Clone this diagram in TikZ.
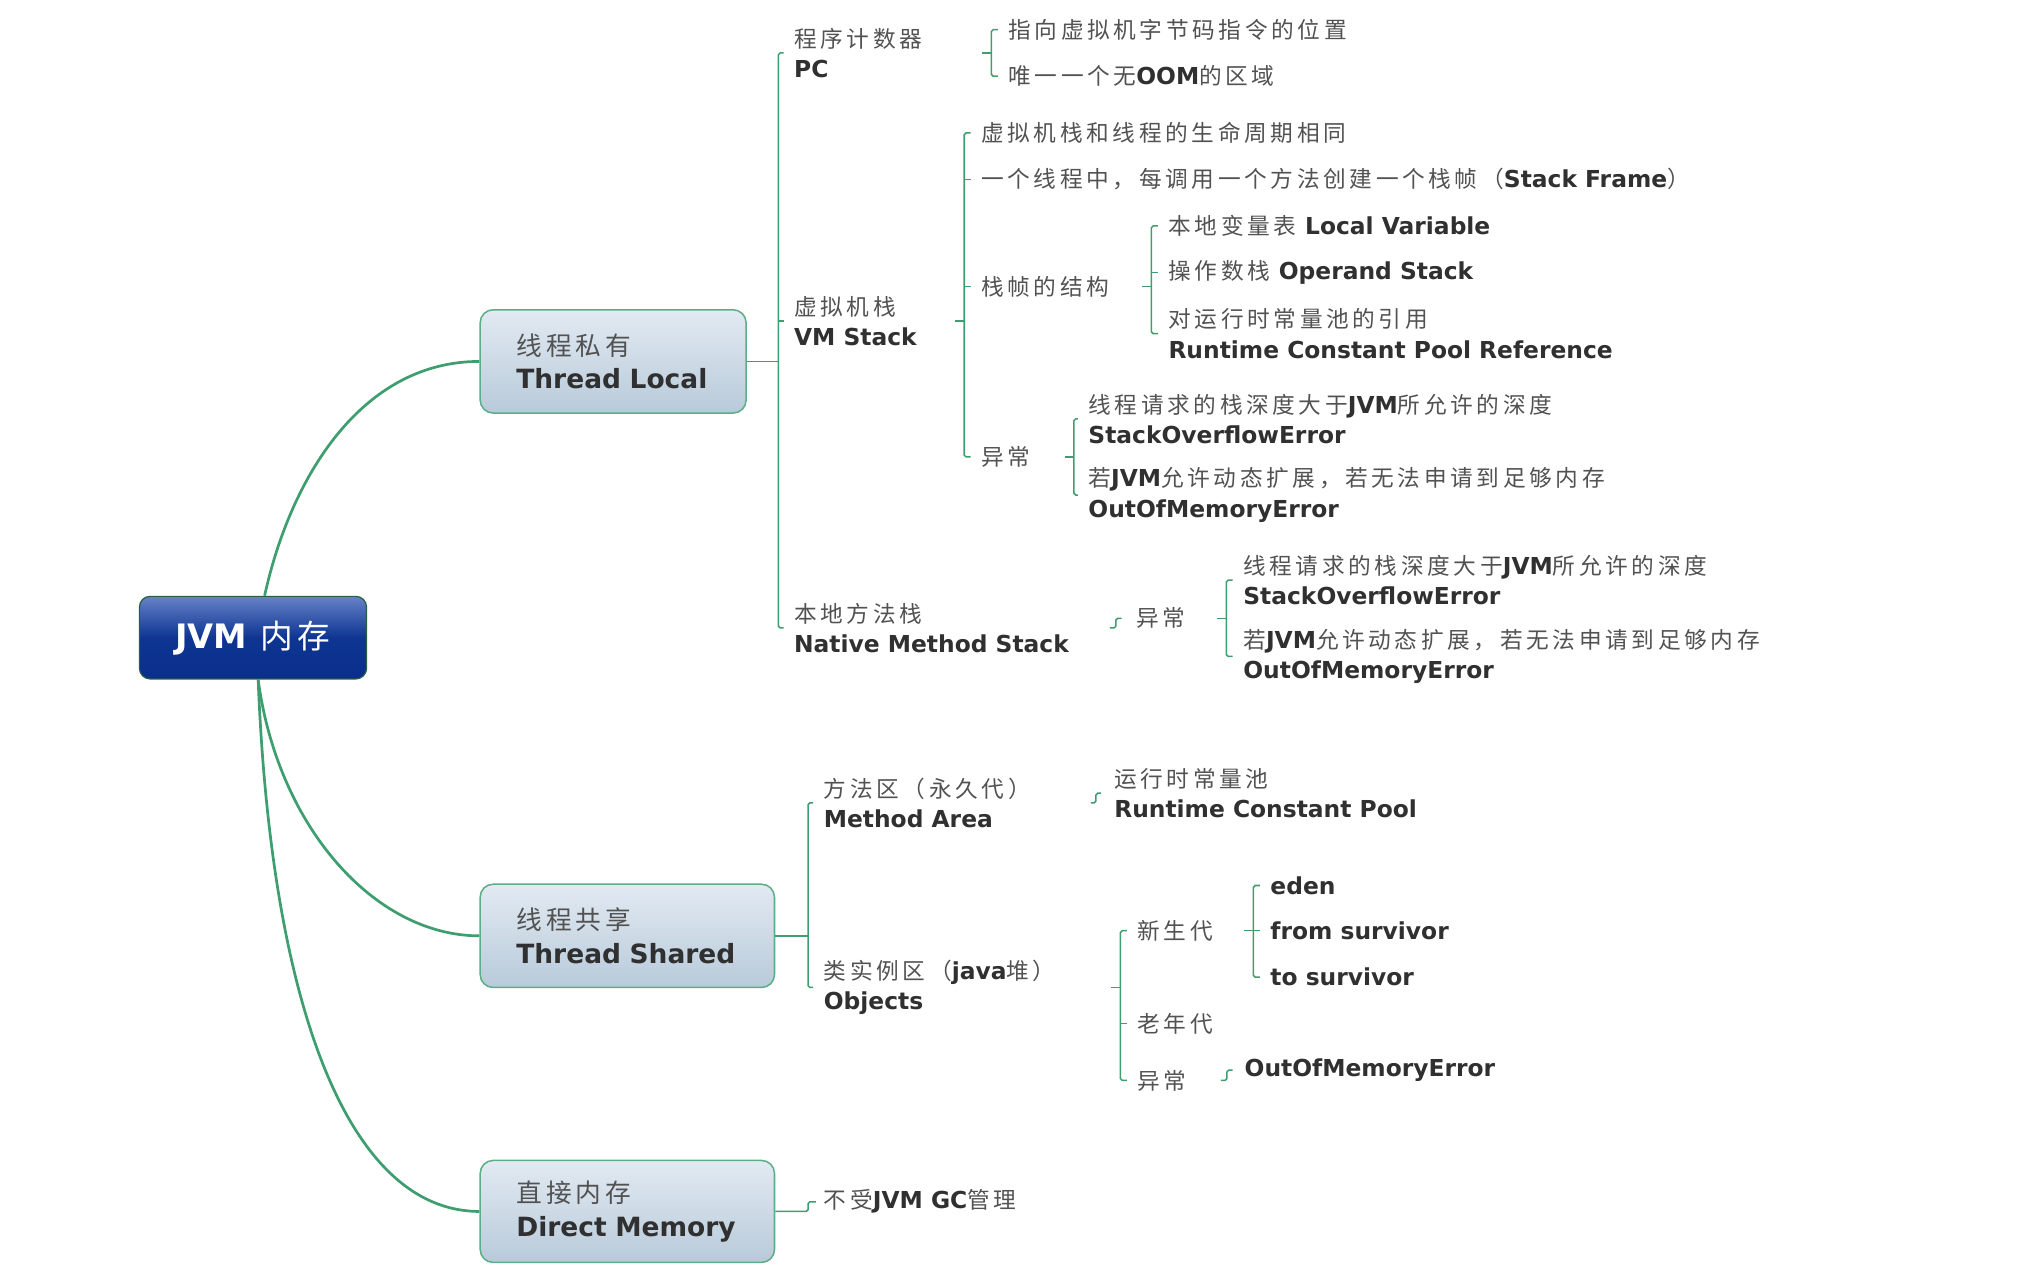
\documentclass[tikz,border=0pt]{standalone}
\usepackage{fontspec}
\setmainfont[LetterSpace=16]{Noto Sans CJK SC}
\newfontfamily\dv[Scale=1.03]{DejaVu Sans}
\definecolor{lgreen}{HTML}{3F9E6F}
\definecolor{txt}{HTML}{525252}
\definecolor{txtb}{HTML}{303030}
\definecolor{boxtop}{HTML}{E2EAF2}
\definecolor{boxbot}{HTML}{B8CADA}
\definecolor{boxline}{HTML}{5CAE86}
\definecolor{roottop}{HTML}{6682C8}
\definecolor{rootmid}{HTML}{0E3592}
\definecolor{rootbot}{HTML}{0A2E8C}
\newcommand\B[1]{{\dv\bfseries\color{txtb}#1}}
\begin{document}
\begin{tikzpicture}[x=0.3mm,y=-0.3mm,
  ln/.style={draw=lgreen,line width=1pt},
  brk/.style={draw=lgreen,line width=1pt,rounded corners=1.2pt},
  cv/.style={draw=lgreen,line width=1.8pt},
  txtn/.style={anchor=west,inner sep=0pt,align=left,text=txt,font=\fontsize{15}{20}\selectfont},
  cbox/.style={rounded corners=3mm,top color=boxtop,bottom color=boxbot,draw=boxline,line width=1pt,
    minimum height=24mm,inner xsep=8.4mm,align=left,text=txt,font=\fontsize{17}{22}\selectfont},
  rootbox/.style={rounded corners=2.5mm,top color=roottop,bottom color=rootbot,middle color=rootmid,
    draw=lgreen!60!black,line width=0.8pt,minimum width=52.8mm,minimum height=19.2mm,text=white,
    font=\fontsize{21.6}{24}\selectfont}
]
\useasboundingbox (0,0) rectangle (1568,990);

% ---------- central nodes ----------
\node[rootbox] (root) at (196,494) {{\dv\bfseries JVM} 内存};
\node[cbox,text width=45mm] (tl) at (475,280) {线程私有\\\B{Thread Local}};
\node[cbox,text width=51.6mm] (ts) at (486,725) {线程共享\\\B{Thread Shared}};
\node[cbox,text width=51.6mm,minimum height=23.7mm] (dm) at (486,938.5) {直接内存\\\B{Direct Memory}};

\draw[cv] ([xshift=2.7mm]root.north) .. controls (225,370) and (280,280) .. (tl.west);
\draw[cv] ([xshift=1.2mm]root.south) .. controls (215,640) and (290,725) .. (ts.west);
\draw[cv] ([xshift=1.2mm]root.south) .. controls (210,780) and (270,938.5) .. (dm.west);

% ---------- Thread Local ----------
\node[txtn] (pc) at (615,41) {程序计数器\\\B{PC}};
\node[txtn] (pc1) at (781,23) {指向虚拟机字节码指令的位置};
\node[txtn] (pc2) at (781,59) {唯一一个无\B{OOM}的区域};
\node[txtn] (vm) at (615,248.5) {虚拟机栈\\\B{VM Stack}};
\node[txtn] (vm1) at (760,103) {虚拟机栈和线程的生命周期相同};
\node[txtn] (vm2) at (760,139) {一个线程中，每调用一个方法创建一个栈帧（\B{Stack Frame}）};
\node[txtn] (vm3) at (760,222) {栈帧的结构};
\node[txtn] (vm31) at (905,175) {本地变量表 \B{Local Variable}};
\node[txtn] (vm32) at (905,211) {操作数栈 \B{Operand Stack}};
\node[txtn] (vm33) at (905,258.5) {对运行时常量池的引用\\\B{Runtime Constant Pool Reference}};
\node[txtn] (vm4) at (760,354) {异常};
\node[txtn] (vm41) at (843,324.5) {线程请求的栈深度大于\B{JVM}所允许的深度\\\B{StackOverflowError}};
\node[txtn] (vm42) at (843,383.5) {若\B{JVM}允许动态扩展，若无法申请到足够内存\\\B{OutOfMemoryError}};
\node[txtn] (nm) at (615,486.5) {本地方法栈\\\B{Native Method Stack}};
\node[txtn] (nm1) at (880,479) {异常};
\node[txtn] (nm11) at (963,449.5) {线程请求的栈深度大于\B{JVM}所允许的深度\\\B{StackOverflowError}};
\node[txtn] (nm12) at (963,508.5) {若\B{JVM}允许动态扩展，若无法申请到足够内存\\\B{OutOfMemoryError}};

\coordinate (bTL) at (603,0);
\coordinate (bPC) at (768,0);
\coordinate (bVM) at (747,0);
\coordinate (bFR) at (892,0);
\coordinate (bEX) at (832,0);
\coordinate (bNE) at (950,0);
\coordinate (sNM) at (864.5,0);
\coordinate (sMA) at (849,0);
\coordinate (sOB) at (950.5,0);
\coordinate (sDM) at (626,0);

% TL bracket
\draw[ln] (tl.east) -- (tl.east -| bTL);
\draw[brk] ([xshift=-2.4mm]pc.west) -- (bTL |- pc.west) -- (bTL |- nm.west) -- ([xshift=-2.4mm]nm.west);
\draw[ln] (bTL |- vm.west) -- ([xshift=-2.4mm]vm.west);
% PC bracket
\draw[ln] ([xshift=-2.1mm]bPC |- pc.west) -- (bPC |- pc.west);
\draw[brk] ([xshift=-2.4mm]pc1.west) -- (bPC |- pc1.west) -- (bPC |- pc2.west) -- ([xshift=-2.4mm]pc2.west);
% VM bracket
\draw[ln,line width=1.6pt] ([xshift=-2.1mm]bVM |- vm.west) -- (bVM |- vm.west);
\draw[brk] ([xshift=-2.4mm]vm1.west) -- (bVM |- vm1.west) -- (bVM |- vm4.west) -- ([xshift=-2.4mm]vm4.west);
\draw[ln] (bVM |- vm2.west) -- ([xshift=-2.4mm]vm2.west);
\draw[ln] (bVM |- vm3.west) -- ([xshift=-2.4mm]vm3.west);
% frame bracket
\draw[ln] ([xshift=-2.1mm]bFR |- vm3.west) -- (bFR |- vm3.west);
\draw[brk] ([xshift=-2.4mm]vm31.west) -- (bFR |- vm31.west) -- (bFR |- vm33.west) -- ([xshift=-2.4mm]vm33.west);
\draw[ln] (bFR |- vm32.west) -- ([xshift=-2.4mm]vm32.west);
% VM exception bracket
\draw[ln] ([xshift=-2.1mm]bEX |- vm4.west) -- (bEX |- vm4.west);
\draw[brk] ([xshift=-2.4mm]vm41.west) -- (bEX |- vm41.west) -- (bEX |- vm42.west) -- ([xshift=-2.4mm]vm42.west);
% native -> exception (single child)
\draw[brk] ([xshift=-1.4mm]sNM |- nm.west) -- (sNM |- nm.west) -- (sNM |- nm1.west) -- ([xshift=-3.3mm]nm1.west);
% native exception bracket
\draw[ln] ([xshift=-2.1mm]bNE |- nm1.west) -- (bNE |- nm1.west);
\draw[brk] ([xshift=-2.4mm]nm11.west) -- (bNE |- nm11.west) -- (bNE |- nm12.west) -- ([xshift=-2.4mm]nm12.west);

% ---------- Thread Shared ----------
\node[txtn] (ma) at (638,622) {方法区（永久代）\\\B{Method Area}};
\node[txtn] (ma1) at (863,614.5) {运行时常量池\\\B{Runtime Constant Pool}};
\node[txtn] (ob) at (638,765) {类实例区（\B{java}堆）\\\B{Objects}};
\node[txtn] (ob1) at (881,721) {新生代};
\node[txtn] (e1) at (984,686) {\B{eden}};
\node[txtn] (e2) at (984,721) {\B{from survivor}};
\node[txtn] (e3) at (984,757) {\B{to survivor}};
\node[txtn] (ob2) at (881,793) {老年代};
\node[txtn] (ob3) at (881,837) {异常};
\node[txtn] (ob31) at (964,829) {\B{OutOfMemoryError}};

\coordinate (bTS) at (626,0);
\coordinate (bOB) at (868,0);
\coordinate (bYG) at (971,0);

\draw[ln] (ts.east) -- (ts.east -| bTS);
\draw[brk] ([xshift=-2.4mm]ma.west) -- (bTS |- ma.west) -- (bTS |- ob.west) -- ([xshift=-2.4mm]ob.west);
\draw[brk] ([xshift=-1.2mm]sMA |- ma.west) -- (sMA |- ma.west) -- (sMA |- ma1.west) -- ([xshift=-3mm]ma1.west);
\draw[ln] ([xshift=-2.1mm]bOB |- ob.west) -- (bOB |- ob.west);
\draw[brk] ([xshift=-2.4mm]ob1.west) -- (bOB |- ob1.west) -- (bOB |- ob3.west) -- ([xshift=-2.4mm]ob3.west);
\draw[ln] (bOB |- ob2.west) -- ([xshift=-2.4mm]ob2.west);
\draw[ln] ([xshift=-2.1mm]bYG |- ob1.west) -- (bYG |- ob1.west);
\draw[brk] ([xshift=-2.4mm]e1.west) -- (bYG |- e1.west) -- (bYG |- e3.west) -- ([xshift=-2.4mm]e3.west);
\draw[ln] (bYG |- e2.west) -- ([xshift=-2.4mm]e2.west);
\draw[brk] ([xshift=-1.4mm]sOB |- ob3.west) -- (sOB |- ob3.west) -- (sOB |- ob31.west) -- ([xshift=-2.7mm]ob31.west);

% ---------- Direct Memory ----------
\node[txtn] (dm1) at (638,931) {不受\B{JVM GC}管理};
\draw[brk] (dm.east) -- (dm.east -| sDM) -- (sDM |- dm1.west) -- ([xshift=-1.8mm]dm1.west);
\end{tikzpicture}
\end{document}
